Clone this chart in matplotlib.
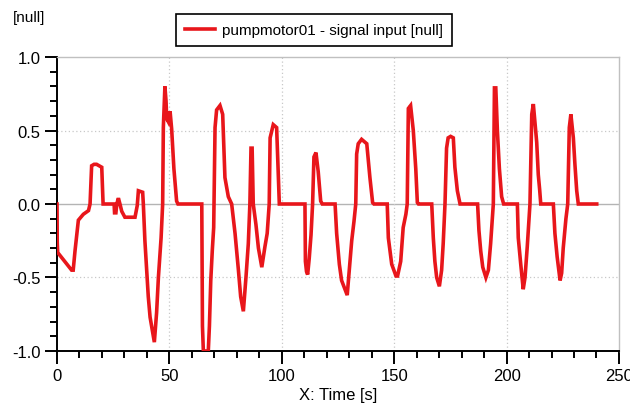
import numpy as np
import matplotlib
matplotlib.use('Agg')
import matplotlib.pyplot as plt
from matplotlib.ticker import MultipleLocator

plt.rcParams['font.family'] = ['Liberation Sans', 'DejaVu Sans']

# signal (time [s], value [null])
t = [0, 0.1, 0.3, 6.5, 7.2, 8, 9.5, 11.7, 14, 14.7, 15.4, 16.5, 17.6, 19.9, 20.5,
     25.4, 25.6, 26.2, 26.6, 27.3, 28.0, 28.8, 30.2, 34.7, 35.7, 36.2, 38.1, 38.4,
     39.1, 39.9, 40.6, 41.4, 42.6, 43.3, 44.3, 45.1, 46.3, 47.0, 47.3, 48.0, 48.5,
     48.8, 49.5, 50.3, 51.0, 52.0, 53.2, 53.8, 64.4, 64.7, 65.1, 67.3, 67.8, 68.4,
     69.1, 69.7, 70.3, 71.0, 72.5, 73.7, 74.7, 76.2, 77.7, 79.2, 80.7, 81.7, 82.9,
     84.1, 85.1, 85.8, 86.3, 86.8, 87.3, 88.5, 89.6, 91.1, 92.5, 93.5, 94.4, 94.8,
     96.2, 97.7, 98.9, 110.3, 110.5, 111.0, 111.5, 112.2, 113.0, 113.7, 114.3,
     115.2, 116.2, 117.3, 118, 123.7, 124.4, 125.6, 126.6, 128.1, 129.1, 130.0,
     131.1, 132.1, 132.9, 133.3, 134.0, 135.5, 137.8, 139.2, 140.4, 141, 146.9,
     147.4, 148.9, 150.8, 151.5, 152.9, 154.0, 155.2, 155.8, 156.3, 157.3, 158.5,
     159.6, 160.3, 160.8, 166.7, 167.4, 168.1, 168.9, 170.1, 171.1, 171.8, 172.6,
     173.3, 174.0, 175.1, 176.3, 177.0, 178.1, 179.3, 187.1, 187.7, 188.5, 189.4,
     190.8, 191.9, 192.9, 194.1, 194.6, 195.2, 195.9, 196.8, 197.8, 198.7, 204.8,
     205.2, 206.3, 207.4, 208.2, 209.2, 210.1, 210.4, 211.2, 211.9, 213.4, 214.1,
     214.7, 215.2, 220.8, 221.5, 222.5, 223.8, 224.5, 225.2, 226.4, 227.2, 227.9,
     228.6, 229.7, 230.4, 231.2, 231.9, 240.1]
v = [0, -0.26, -0.33, -0.45, -0.45, -0.32, -0.11, -0.07, -0.045, 0, 0.26, 0.27, 0.27, 0.25, 0,
     0, -0.06, -0.06, 0, 0.04, 0, -0.05, -0.09, -0.09, -0.01, 0.09, 0.08, 0,
     -0.25, -0.45, -0.63, -0.77, -0.88, -0.94, -0.74, -0.5, -0.23, 0, 0.52, 0.80, 0.70,
     0.58, 0.56, 0.63, 0.51, 0.24, 0.02, 0, 0, -0.83, -1.0, -1.0, -0.83, -0.52,
     -0.31, -0.16, 0.52, 0.64, 0.67, 0.61, 0.18, 0.05, 0, -0.2, -0.45, -0.63, -0.73,
     -0.49, -0.27, 0, 0.38, 0.38, 0, -0.14, -0.3, -0.43, -0.29, -0.2, 0, 0.45,
     0.54, 0.52, 0, 0, -0.39, -0.46, -0.48, -0.37, -0.21, 0, 0.32,
     0.35, 0.22, 0.02, 0, 0, -0.2, -0.41, -0.52, -0.58, -0.62, -0.45,
     -0.25, -0.12, 0, 0.34, 0.41, 0.44, 0.41, 0.18, 0.01, 0, 0,
     -0.23, -0.41, -0.49, -0.49, -0.39, -0.16, -0.07, 0, 0.65, 0.67, 0.5,
     0.24, 0.01, 0, 0, -0.23, -0.39, -0.5, -0.56, -0.45, -0.27, 0,
     0.38, 0.45, 0.46, 0.45, 0.25, 0.09, 0, 0, -0.18, -0.32, -0.43,
     -0.5, -0.45, -0.27, 0, 0.79, 0.79, 0.5, 0.24, 0.05, 0, 0,
     -0.23, -0.41, -0.58, -0.5, -0.29, -0.07, 0, 0.61, 0.68, 0.42, 0.2,
     0.1, 0, 0, -0.2, -0.36, -0.52, -0.47, -0.3, -0.1, 0, 0.52,
     0.61, 0.45, 0.27, 0.09, 0, 0]

fig = plt.figure(figsize=(6.3, 4.1), dpi=100)
ax = fig.add_axes([0.0905, 0.1415, 0.892, 0.717])

# zero line and dotted grid
ax.axhline(0, color='#b4b4b4', lw=1.0, zorder=1)
for gx in [50, 100, 150, 200]:
    ax.axvline(gx, color='#c8c8c8', lw=0.9, ls=(0, (1, 2)), zorder=1)
for gy in [-0.5, 0.5]:
    ax.axhline(gy, color='#c8c8c8', lw=0.9, ls=(0, (1, 2)), zorder=1)

line, = ax.plot(t, v, color='#e8161b', lw=2.6, zorder=3, solid_joinstyle='miter')

ax.set_xlim(0, 250)
ax.set_ylim(-1.0, 1.0)
ax.xaxis.set_major_locator(MultipleLocator(50))
ax.xaxis.set_minor_locator(MultipleLocator(10))
ax.yaxis.set_major_locator(MultipleLocator(0.5))
ax.yaxis.set_minor_locator(MultipleLocator(0.1))
ax.yaxis.set_major_formatter(plt.FuncFormatter(lambda y, p: '%.1f' % y))

ax.tick_params(axis='both', which='major', direction='out', length=9, width=1.4,
               labelsize=12, colors='black')
ax.tick_params(axis='both', which='minor', direction='out', length=5, width=1.4)
ax.tick_params(axis='x', pad=3)
ax.tick_params(axis='y', pad=3)

for s in ['left', 'bottom']:
    ax.spines[s].set_color('black')
    ax.spines[s].set_linewidth(1.4)
for s in ['top', 'right']:
    ax.spines[s].set_color('#c0c0c0')
    ax.spines[s].set_linewidth(1.0)

ax.set_xlabel('X: Time [s]', fontsize=12, labelpad=3)
fig.text(0.02, 0.955, '[null]', fontsize=11, va='center', ha='left')

leg = fig.legend([line], ['pumpmotor01 - signal input [null]'],
                 loc='center', bbox_to_anchor=(0.4984, 0.924), fontsize=11,
                 fancybox=False, framealpha=1, edgecolor='black',
                 handlelength=2.0, borderpad=0.6, handletextpad=0.45,
                 borderaxespad=0)
leg.get_frame().set_linewidth(1.2)

fig.savefig('out.png', dpi=100)
